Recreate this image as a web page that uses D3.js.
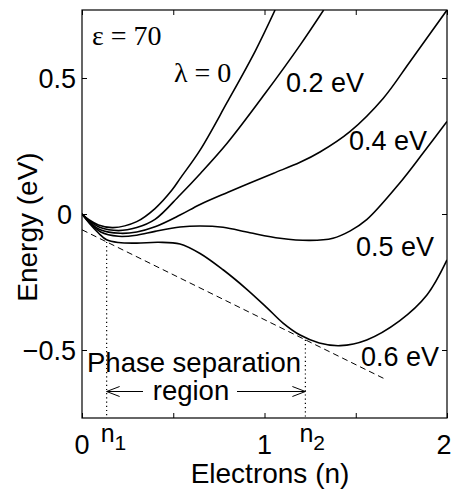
<!DOCTYPE html>
<html><head><meta charset="utf-8">
<script src="https://cdn.jsdelivr.net/npm/d3@7"></script>
<style>body{margin:0;background:#fff} svg{display:block}</style>
</head><body><svg id="c" width="454" height="489"></svg>
<script>
// ---- data ----
const xTicks = [0, 0.5, 1, 1.5, 2];
const xTickLabels = ["0", "", "1", "", "2"];
const yTicks = [-0.5, 0, 0.5];
const yTickLabels = ["\u22120.5", "0", "0.5"];
const curveLabels = ["\u03bb = 0", "0.2 eV", "0.4 eV", "0.5 eV", "0.6 eV"];
const lambda0 = [[0,0],[0.04,-0.022],[0.09,-0.04],[0.17,-0.05],[0.3,-0.028],[0.4,0.02],[0.493,0.088],[0.537,0.13],[0.647,0.235],[0.795,0.41],[0.95,0.6],[1.058,0.75]];
const lambda02 = [[0,0],[0.04,-0.025],[0.1,-0.05],[0.2,-0.061],[0.3,-0.05],[0.4,-0.02],[0.537,0.07],[0.65,0.15],[0.795,0.26],[1.0,0.44],[1.195,0.621],[1.324,0.75]];
const lambda04 = [[0,0],[0.04,-0.028],[0.1,-0.058],[0.21,-0.071],[0.3,-0.066],[0.4,-0.047],[0.537,-0.004],[0.647,0.035],[0.8,0.08],[0.92,0.114],[1.05,0.15],[1.195,0.19],[1.304,0.228],[1.468,0.303],[1.65,0.425],[1.797,0.56],[2.0,0.75]];
const lambda05 = [[0,0],[0.04,-0.031],[0.1,-0.065],[0.2,-0.082],[0.3,-0.078],[0.4,-0.064],[0.537,-0.048],[0.647,-0.044],[0.773,-0.049],[0.92,-0.069],[1.085,-0.089],[1.25,-0.097],[1.375,-0.089],[1.47,-0.062],[1.56,-0.021],[1.74,0.113],[1.87,0.225],[2.0,0.34]];
const lambda06 = [[0,0],[0.04,-0.034],[0.09,-0.07],[0.135,-0.095],[0.2,-0.105],[0.3,-0.107],[0.42,-0.104],[0.537,-0.11],[0.647,-0.145],[0.773,-0.205],[0.9,-0.275],[1.014,-0.345],[1.1,-0.4],[1.195,-0.445],[1.3,-0.474],[1.415,-0.484],[1.56,-0.463],[1.74,-0.393],[1.89,-0.298],[2.0,-0.169]];
const tangentLine = [[0,-0.058],[1.67,-0.61]];
const phaseBounds = [0.135, 1.224];
const boundLabels = ["1", "2"];

// ---- layout ----
const svg = d3.select("#c");
const L = 82, R = 447, T = 10, B = 418;
const x = d3.scaleLinear().domain([0, 2]).range([L, R]);
const y = d3.scaleLinear().domain([-0.75, 0.75]).range([B, T]);
const sans = "'Liberation Sans', Arial, Helvetica, sans-serif";
const serif = "'Liberation Serif', 'Times New Roman', serif";

svg.append("defs").append("clipPath").attr("id","clip")
  .append("rect").attr("x",L).attr("y",T).attr("width",R-L).attr("height",B-T);

// axes with inward ticks
const tickLen = 5;
svg.append("g").attr("transform",`translate(0,${B})`)
  .call(d3.axisBottom(x).tickValues(xTicks).tickSize(-tickLen).tickFormat(""))
  .call(g=>g.select(".domain").remove());
svg.append("g").attr("transform",`translate(0,${T})`)
  .call(d3.axisTop(x).tickValues(xTicks).tickSize(-tickLen).tickFormat(""))
  .call(g=>g.select(".domain").remove());
svg.append("g").attr("transform",`translate(${L},0)`)
  .call(d3.axisLeft(y).tickValues(yTicks).tickSize(-tickLen).tickFormat(""))
  .call(g=>g.select(".domain").remove());
svg.append("g").attr("transform",`translate(${R},0)`)
  .call(d3.axisRight(y).tickValues(yTicks).tickSize(-tickLen).tickFormat(""))
  .call(g=>g.select(".domain").remove());
svg.selectAll(".tick line").attr("stroke","#000").attr("stroke-width",1);

svg.append("rect").attr("x",L).attr("y",T).attr("width",R-L).attr("height",B-T)
  .attr("fill","none").attr("stroke","#000").attr("stroke-width",1.2);

// tick labels
svg.append("g").selectAll("text").data(xTicks).join("text")
  .attr("x",d=>x(d)).attr("y",454).attr("text-anchor","middle")
  .attr("dx",(d,i)=>i===xTicks.length-1?-3:0)
  .attr("font-family",sans).attr("font-size",27)
  .text((d,i)=>xTickLabels[i]);
svg.append("g").selectAll("text").data(yTicks).join("text")
  .attr("x",d=>d===0?L-10:L-6).attr("y",d=>y(d)).attr("dy","0.36em").attr("text-anchor","end")
  .attr("font-family",sans).attr("font-size",27)
  .text((d,i)=>yTickLabels[i]);

// n1, n2 labels
svg.append("g").selectAll("text").data(phaseBounds).join("text")
  .attr("x",d=>x(d)-6).attr("y",442)
  .attr("font-family",sans).attr("font-size",25)
  .call(t=>{
    t.append("tspan").text("n");
    t.append("tspan").attr("dy",8).attr("font-size",21).text((d,i)=>boundLabels[i]);
  });

// axis titles
svg.append("text").attr("x",270).attr("y",483).attr("text-anchor","middle")
  .attr("font-family",sans).attr("font-size",28).text("Electrons (n)");
svg.append("text").attr("transform","translate(37,227) rotate(-90)")
  .attr("text-anchor","middle").attr("font-family",sans).attr("font-size",28)
  .text("Energy (eV)");

// curves
const line = d3.line().x(d=>x(d[0])).y(d=>y(d[1])).curve(d3.curveCatmullRom.alpha(0.5));
const plot = svg.append("g").attr("clip-path","url(#clip)");
[lambda0, lambda02, lambda04, lambda05, lambda06].forEach(s=>{
  plot.append("path").attr("d",line(s)).attr("fill","none")
    .attr("stroke","#000").attr("stroke-width",1.6);
});
// tangent (dashed)
plot.append("path").attr("d",d3.line().x(d=>x(d[0])).y(d=>y(d[1]))(tangentLine))
  .attr("fill","none").attr("stroke","#000").attr("stroke-width",1)
  .attr("stroke-dasharray","6,4");
// dotted boundaries
const slope = (tangentLine[1][1]-tangentLine[0][1])/(tangentLine[1][0]-tangentLine[0][0]);
phaseBounds.forEach(n=>{
  const e = tangentLine[0][1] + slope*(n - tangentLine[0][0]);
  plot.append("line").attr("x1",x(n)).attr("x2",x(n)).attr("y1",y(e)).attr("y2",B)
    .attr("stroke","#000").attr("stroke-width",1.2).attr("stroke-dasharray","1.2,3");
});

// arrows
const ay = 391.5;
function arrow(x1, x2){ // tip at x2
  const g = plot.append("g").attr("stroke","#000").attr("stroke-width",1).attr("fill","none");
  g.append("line").attr("x1",x1).attr("x2",x2).attr("y1",ay).attr("y2",ay);
  const dir = x2 > x1 ? -1 : 1;
  g.append("path").attr("d",`M${x2+dir*13},${ay-5}L${x2},${ay}L${x2+dir*13},${ay+5}`);
}
arrow(143, x(phaseBounds[0]));
arrow(237, x(phaseBounds[1]));

// annotations
const ann = svg.append("g");
ann.append("text").attr("x",87).attr("y",372).attr("font-family",sans).attr("font-size",27.5).text("Phase separation");
ann.append("text").attr("x",191).attr("y",400).attr("text-anchor","middle").attr("font-family",sans).attr("font-size",27.5).text("region");
ann.append("text").attr("x",92).attr("y",45).attr("font-family",serif).attr("font-size",28).text("\u03b5 = 70");
ann.append("text").attr("x",174).attr("y",82).attr("font-family",serif).attr("font-size",28).text(curveLabels[0]);
const labelPos = [null,[286,92],[349,150],[356,256],[361,366]];
for (let i=1;i<5;i++){
  ann.append("text").attr("x",labelPos[i][0]).attr("y",labelPos[i][1])
    .attr("font-family",sans).attr("font-size",27).text(curveLabels[i]);
}
</script></body></html>
